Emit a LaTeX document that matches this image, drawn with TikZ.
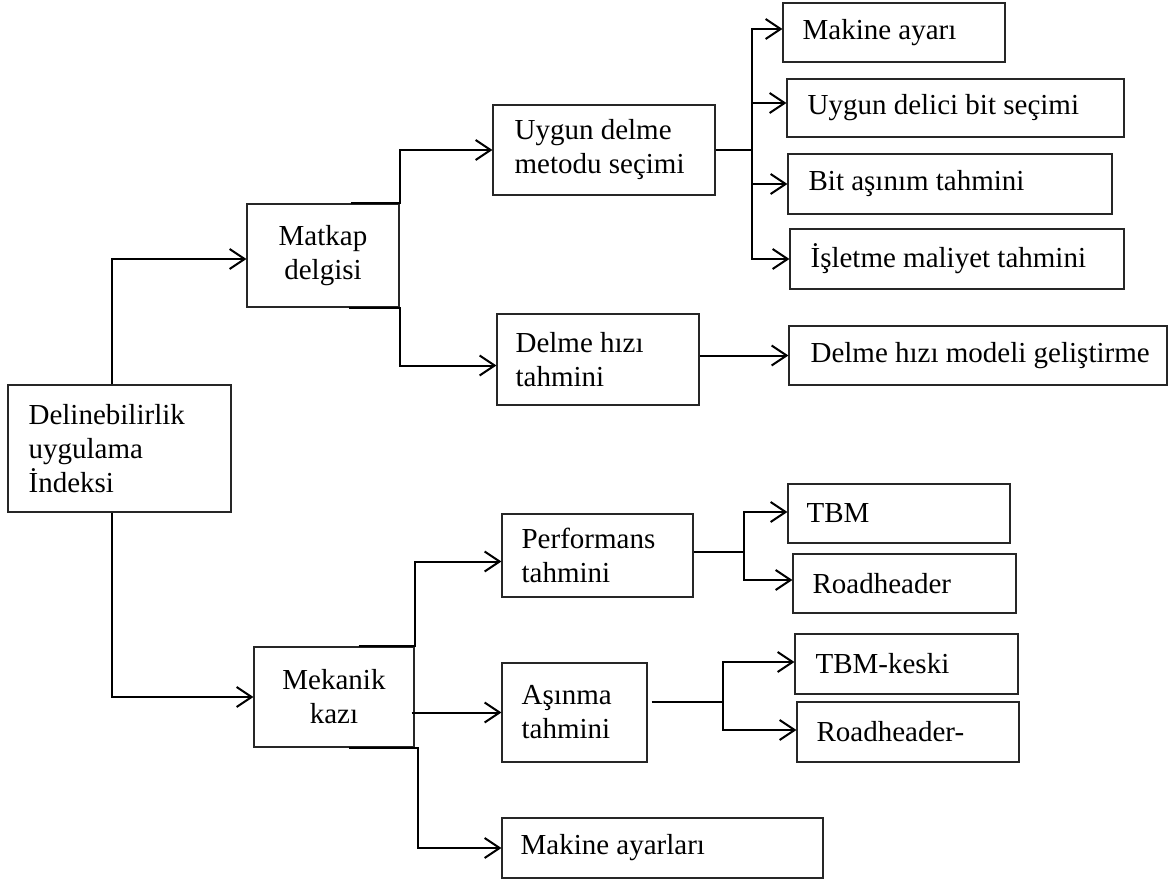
\documentclass[tikz,border=0pt]{standalone}
\usepackage{fontspec}
\setmainfont{Liberation Serif}
\usetikzlibrary{arrows.meta}
\begin{document}
\begin{tikzpicture}[x=1pt,y=-1pt,
  font=\fontsize{29}{34}\selectfont,
  box/.style={draw=black!85, line width=1.2pt, inner sep=0pt, rectangle},
  lt/.style={anchor=west, align=left, inner sep=0pt, xshift=#1},
  conn/.style={line width=2pt},
  arr/.style={line width=2pt, -{Straight Barb[length=15pt,width=20pt]}},
]
\useasboundingbox (0,0) rectangle (1170,881);

% nodes
\node[box, minimum width=223pt, minimum height=127pt,
  label={[lt=21pt]west:Delinebilirlik\\uygulama\\İndeksi}] (root) at (119.5,448.5) {};
\node[box, minimum width=152pt, minimum height=103pt, align=center] (matkap) at (323,255.5) {Matkap\\delgisi};
\node[box, minimum width=222pt, minimum height=90pt,
  label={[lt=22pt]west:Uygun delme\\metodu seçimi}] (uygun) at (604,150) {};
\node[box, minimum width=202pt, minimum height=91pt,
  label={[lt=19pt]west:Delme hızı\\tahmini}] (dhiz) at (598,359.5) {};
\node[box, minimum width=222pt, minimum height=59pt,
  label={[lt=20pt]west:Makine ayarı}] (makine) at (894,32.5) {};
\node[box, minimum width=337pt, minimum height=58pt,
  label={[lt=21pt]west:Uygun delici bit seçimi}] (bitsec) at (955.5,108) {};
\node[box, minimum width=324pt, minimum height=60pt,
  label={[lt=21pt]west:Bit aşınım tahmini}] (bitas) at (950,184) {};
\node[box, minimum width=334pt, minimum height=60pt,
  label={[lt=21pt]west:İşletme maliyet tahmini}] (islet) at (957,259) {};
\node[box, minimum width=378pt, minimum height=59pt,
  label={[lt=22pt]west:Delme hızı modeli geliştirme}] (model) at (978,355.5) {};
\node[box, minimum width=160pt, minimum height=100pt, align=center] (mekanik) at (334,697) {Mekanik\\kazı};
\node[box, minimum width=191pt, minimum height=83pt,
  label={[lt=20pt]west:Performans\\tahmini}] (perf) at (597.5,555.5) {};
\node[box, minimum width=145pt, minimum height=99pt,
  label={[lt=20pt]west:Aşınma\\tahmini}] (asinma) at (574.5,712.5) {};
\node[box, minimum width=321pt, minimum height=60pt,
  label={[lt=19pt]west:Makine ayarları}] (makayar) at (662.5,848) {};
\node[box, minimum width=222pt, minimum height=59pt,
  label={[lt=19pt]west:TBM}] (tbm) at (899,513.5) {};
\node[box, minimum width=223pt, minimum height=59pt,
  label={[lt=20pt]west:Roadheader}] (road) at (904.5,583.5) {};
\node[box, minimum width=223pt, minimum height=60pt,
  label={[lt=21pt]west:TBM-keski}] (tbmk) at (906.5,664) {};
\node[box, minimum width=222pt, minimum height=60pt,
  label={[lt=20pt]west:Roadheader-}] (roadk) at (908,732) {};

% connectors from root
\draw[arr] ([xshift=-7.5pt]root.north) |- ([yshift=-3.5pt]matkap.west);
\draw[arr] ([xshift=-7.5pt]root.south) |- (mekanik.west);

% Matkap delgisi
\draw[arr] ([xshift=-49pt]matkap.north east) -- (matkap.north east) |- (uygun.west);
\draw[arr] ([xshift=-51pt]matkap.south east) -- (matkap.south east) |- ([yshift=-6pt]dhiz.west);
\draw[arr] (dhiz.east |- model.west) -- (model.west);

% Uygun delme metodu seçimi
\coordinate (j1) at ([xshift=36pt]uygun.east);
\draw[conn] (uygun.east) -- (j1);
\draw[arr] (j1) |- ([yshift=3.5pt]makine.west);
\draw[arr] (j1) |- ([yshift=5pt]bitsec.west);
\draw[arr] (j1) |- (bitas.west);
\draw[arr] (j1) |- (islet.west);

% Mekanik kazı
\draw[arr] ([xshift=-56pt]mekanik.north east) -- (mekanik.north east) |- ([yshift=-6pt]perf.west);
\draw[arr] ([xshift=-3pt]mekanik.east |- asinma.west) -- (asinma.west);
\draw[arr] ([xshift=-66pt]mekanik.south east) -- ([xshift=3pt]mekanik.south east) |- (makayar.west);

% Performans tahmini
\coordinate (j2) at ([xshift=50pt,yshift=3.5pt]perf.east);
\draw[conn] ([yshift=3.5pt]perf.east) -- (j2);
\draw[arr] (j2) |- ([yshift=1.5pt]tbm.west);
\draw[arr] (j2) |- ([yshift=3.5pt]road.west);

% Aşınma tahmini
\coordinate (j3) at ([xshift=75pt,yshift=10.5pt]asinma.east);
\draw[conn] ([xshift=4pt,yshift=10.5pt]asinma.east) -- (j3);
\draw[arr] (j3) |- ([yshift=2pt]tbmk.west);
\draw[arr] (j3) |- ([yshift=2pt]roadk.west);
\end{tikzpicture}
\end{document}
